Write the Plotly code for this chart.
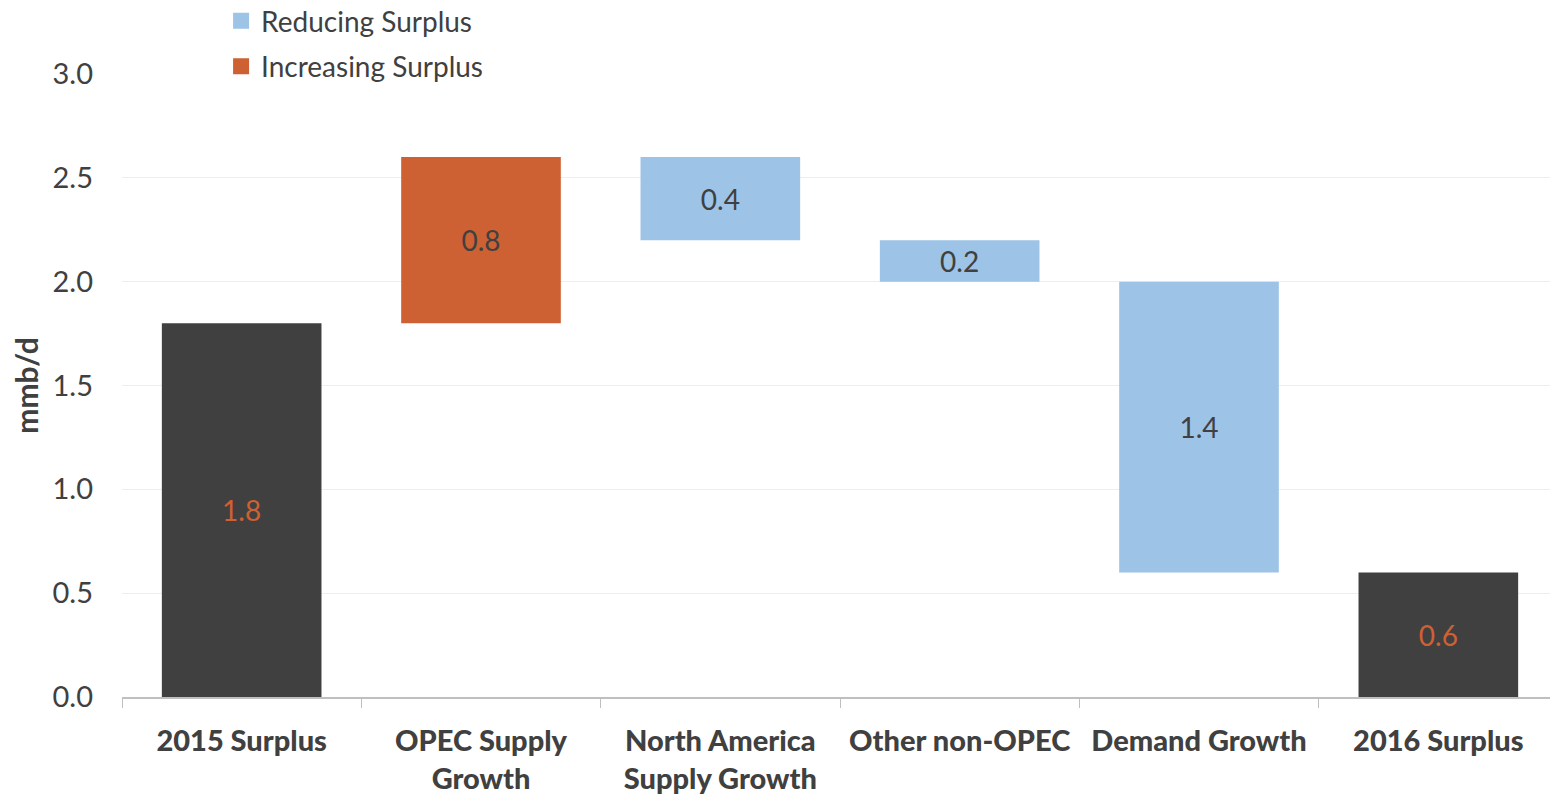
import plotly.graph_objects as go

categories = ["2015 Surplus", "OPEC Supply<br>Growth", "North America<br>Supply Growth",
              "Other non-OPEC", "Demand Growth", "2016 Surplus"]
kinds = ["total", "increase", "reduce", "reduce", "reduce", "total"]
changes = [1.8, 0.8, 0.4, 0.2, 1.4, 0.6]

# compute bases from running totals
bases, heights = [], []
running = 0.0
for k, v in zip(kinds, changes):
    if k == "total":
        bases.append(0.0); heights.append(v); running = v
    elif k == "increase":
        bases.append(running); heights.append(v); running += v
    else:
        running -= v
        bases.append(running); heights.append(v)

colors = {"total": "#404040", "increase": "#CD6133", "reduce": "#9DC3E6"}
text_colors = {"total": "#CD6133", "increase": "#404040", "reduce": "#404040"}
names = {"total": "Surplus", "increase": "Increasing Surplus", "reduce": "Reducing Surplus"}

FONT = "Lato, Open Sans, sans-serif"
fig = go.Figure()
for k in ["reduce", "increase", "total"]:
    idx = [i for i, kk in enumerate(kinds) if kk == k]
    fig.add_trace(go.Bar(
        x=[categories[i] for i in idx],
        y=[heights[i] for i in idx],
        base=[bases[i] for i in idx],
        text=[f"{changes[i]:.1f}" for i in idx],
        textposition="inside", insidetextanchor="middle",
        textfont=dict(color=text_colors[k], size=28, family=FONT),
        marker=dict(color=colors[k], line=dict(width=0)),
        name=names[k], showlegend=False,
        width=0.667, hoverinfo="skip",
    ))

# legend entries with larger square swatches
for k in ["reduce", "increase"]:
    fig.add_trace(go.Scatter(
        x=[None], y=[None], mode="markers",
        marker=dict(symbol="square", size=19, color=colors[k]),
        name=names[k], legendgroup=k, showlegend=True,
    ))

fig.update_layout(
    width=1550, height=787,
    paper_bgcolor="white", plot_bgcolor="white",
    margin=dict(l=114, r=0, t=66, b=98, autoexpand=False),
    barmode="overlay",
    font=dict(family=FONT, color="#404040"),
    legend=dict(x=0.069, y=1.125, xanchor="left", yanchor="top",
                font=dict(size=28, color="#404040"), bgcolor="rgba(0,0,0,0)",
                tracegroupgap=6, itemwidth=30),
    xaxis=dict(categoryorder="array", categoryarray=categories,
               showline=True, linecolor="#BFBFBF", linewidth=2,
               ticks="outside", tickson="boundaries", ticklen=9, tickcolor="#BFBFBF",
               tickfont=dict(size=29, color="#404040", family="Lato Black, Lato, sans-serif"),
               ticklabelstandoff=17, automargin=False,
               showgrid=False),
    yaxis=dict(range=[0, 3.0], dtick=0.5, tickformat=".1f",
               showgrid=True, gridcolor="#EEEEEE", gridwidth=1,
               zeroline=False, showline=False, automargin=False,
               tickfont=dict(size=29, color="#404040"), ticklabelstandoff=28,
               title=dict(text="<b>mmb/d</b>", font=dict(size=30, color="#404040"), standoff=12)),
)

fig.write_html("out.html")
